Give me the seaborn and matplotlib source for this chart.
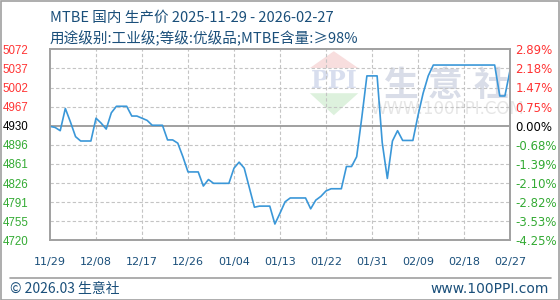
import numpy as np
import pandas as pd
import matplotlib
matplotlib.use("Agg")
import matplotlib.pyplot as plt
import seaborn as sns

# ---- data ----
dates = pd.date_range("2025-11-29", "2026-02-27", freq="D")
prices = [4930, 4928, 4922, 4963, 4938, 4911, 4903, 4903, 4903, 4945,
          4936, 4925, 4955, 4967, 4967, 4967, 4949, 4949, 4945, 4941,
          4932, 4932, 4932, 4905, 4905, 4899, 4874, 4846, 4846, 4846,
          4820, 4832, 4825, 4825, 4825, 4825, 4853, 4864, 4853, 4817,
          4781, 4783, 4783, 4783, 4750, 4770, 4791, 4798, 4798, 4798,
          4798, 4778, 4794, 4801, 4811, 4815, 4815, 4815, 4856, 4856,
          4874, 4946, 5023, 5023, 5023, 4900, 4834, 4903, 4922, 4904,
          4904, 4904, 4950, 4991, 5023, 5043, 5043, 5043, 5043, 5043,
          5043, 5043, 5043, 5043, 5043, 5043, 5043, 5043, 4986, 4986,
          5033]
base_price = 4930
left_ticks = ["5072", "5037", "5002", "4967", "4930", "4896", "4861",
              "4826", "4791", "4755", "4720"]
right_ticks = ["2.89%", "2.18%", "1.47%", "0.75%", "0.00%", "-0.68%",
               "-1.39%", "-2.10%", "-2.82%", "-3.53%", "-4.25%"]
x_labels = ["11/29", "12/08", "12/17", "12/26", "01/04", "01/13",
            "01/22", "01/31", "02/09", "02/18", "02/27"]
title = "MTBE 国内 生产价 2025-11-29 - 2026-02-27"
subtitle = "用途级别:工业级;等级:优级品;MTBE含量:≥98%"
footer_left = "© 2026.03 生意社"
footer_right = "www.100PPI.com"

df = pd.DataFrame({"day": np.arange(len(prices)), "price": prices})

sns.set_theme(style="white")
plt.rcParams["font.family"] = ["Noto Sans CJK SC", "DejaVu Sans"]

W, H = 560, 300
fig = plt.figure(figsize=(W / 100, H / 100), dpi=100)
fig.patch.set_facecolor("white")
ax = fig.add_axes([50 / W, (H - 240.3) / H, 460 / W, 191 / H])

ymax, ymin = 5072, 4720
xmax = len(prices) - 1
ax.set_xlim(0, xmax)
ax.set_ylim(ymin, ymax)
yt = np.linspace(ymax, ymin, 11)
xt = np.arange(0, len(prices), 9)

# watermark
for xf, ch in zip([0.763, 0.858, 0.958], ["生", "意", "社"]):
    ax.text(xf, 0.81, ch, transform=ax.transAxes, fontsize=25,
            color="#d9dde8", ha="center", va="center", zorder=0,
            fontweight="bold")
ax.text(0.863, 0.69, "WWW.100PPI.COM", transform=ax.transAxes, fontsize=12,
        color="#e6e6e6", ha="center", va="center", zorder=0,
        family="DejaVu Sans")
ax.fill([0.565, 0.67, 0.617], [0.902, 0.902, 0.99], transform=ax.transAxes,
        color="#f8dede", zorder=0, lw=0)
ax.fill([0.565, 0.67, 0.617], [0.77, 0.77, 0.655], transform=ax.transAxes,
        color="#ddf1dd", zorder=0, lw=0)
ax.text(0.617, 0.834, "PPI", transform=ax.transAxes, fontsize=17,
        color="#d8deee", ha="center", va="center", zorder=0,
        family="DejaVu Serif", fontweight="bold")

# dashed grid lines
for y in yt[1:-1]:
    if abs(y - 4931.2) > 0.5:
        ax.axhline(y, color="#c4c4c4", lw=0.8, ls=(0, (3, 2)), zorder=2)
for x in xt[1:-1]:
    ax.axvline(x, color="#c4c4c4", lw=0.8, ls=(0, (3, 2)), zorder=2)
ax.axhline(base_price, color="#999999", lw=1.3, zorder=2.5)

sns.lineplot(data=df, x="day", y="price", ax=ax, color="#3a97d8",
             lw=1.2, zorder=3)

ax.set_xlabel("")
ax.set_ylabel("")
ax.set_xticks(xt)
ax.set_xticklabels(x_labels, fontsize=8, color="#1a4f7a",
                   family=["DejaVu Sans"])
ax.tick_params(axis="x", length=0, pad=12)
ax.set_yticks(yt)
ax.set_yticklabels(left_ticks, fontsize=8.3, family=["Liberation Sans"])
ax.tick_params(axis="y", length=0, pad=15.5)
for lab, v in zip(ax.get_yticklabels(), yt):
    if abs(v - 4931.2) < 0.5:
        lab.set_color("black")
    elif v > 4931.2:
        lab.set_color("#ff3333")
    else:
        lab.set_color("#33aa33")

ax2 = ax.twinx()
ax2.set_ylim(ymin, ymax)
ax2.set_yticks(yt)
ax2.set_yticklabels(right_ticks, fontsize=8.5, family=["DejaVu Sans"])
ax2.tick_params(axis="y", length=0, pad=4)
for lab, v in zip(ax2.get_yticklabels(), yt):
    if abs(v - 4931.2) < 0.5:
        lab.set_color("black")
    elif v > 4931.2:
        lab.set_color("#ff3333")
    else:
        lab.set_color("#33aa33")
ax2.grid(False)

for a in (ax, ax2):
    for s in a.spines.values():
        s.set_color("#a0a0a0")
        s.set_linewidth(1.2)

fig.text(50 / W, 1 - 18 / H, title, fontsize=10.5, color="#1a4f7a",
         ha="left", va="center")
fig.text(50 / W, 1 - 38 / H, subtitle, fontsize=10.5, color="#1a4f7a",
         ha="left", va="center")

# footer
fig.add_artist(plt.Line2D([10 / W, 551 / W], [1 - 277.5 / H, 1 - 277.5 / H],
                          color="#a0a0a0", lw=1.2))
fig.text(10 / W, 1 - 289 / H, footer_left, fontsize=10, color="#1a4f7a",
         ha="left", va="center")
fig.text(549 / W, 1 - 289 / H, footer_right, fontsize=10, color="#1a4f7a",
         ha="right", va="center", family=["DejaVu Sans"])
# outer border
fig.add_artist(plt.Rectangle((0.5 / W, 0.5 / H), (W - 1.5) / W, (H - 1.5) / H,
                             fill=False, edgecolor="#a0a0a0", lw=1.2,
                             transform=fig.transFigure))

fig.savefig("out.png", dpi=100)
